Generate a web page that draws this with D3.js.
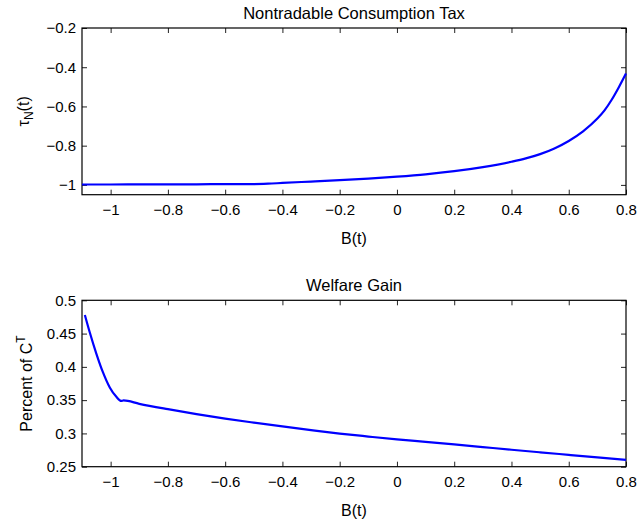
<!DOCTYPE html>
<html>
<head>
<meta charset="utf-8">
<script src="https://cdn.jsdelivr.net/npm/d3@7"></script>
<style>
  html, body { margin: 0; padding: 0; background: #fff; }
  svg { display: block; font-family: "Liberation Sans", Arial, Helvetica, sans-serif; }
</style>
</head>
<body>
<svg id="chart" width="638" height="523"></svg>
<script>
// ---- Data ----
const xTicks = [-1, -0.8, -0.6, -0.4, -0.2, 0, 0.2, 0.4, 0.6, 0.8];

// Panel 1: Nontradable Consumption Tax
const taxB   = [-1.1, -1.0, -0.9, -0.8, -0.7, -0.6, -0.5, -0.45, -0.4, -0.3, -0.2, -0.1, 0, 0.1, 0.2, 0.3, 0.4, 0.45, 0.5, 0.55, 0.6, 0.65, 0.7, 0.725, 0.75, 0.775, 0.8];
const taxVal = [-0.998, -0.998, -0.997, -0.997, -0.997, -0.996, -0.996, -0.994, -0.990, -0.983, -0.976, -0.968, -0.958, -0.946, -0.930, -0.909, -0.882, -0.865, -0.843, -0.814, -0.776, -0.727, -0.662, -0.620, -0.566, -0.502, -0.432];
const taxYTicks = [-1, -0.8, -0.6, -0.4, -0.2];

// Panel 2: Welfare Gain
const gainB   = [-1.09, -1.073, -1.05, -1.027, -1.003, -0.98, -0.963, -0.955, -0.9, -0.8, -0.7, -0.6, -0.5, -0.4, -0.3, -0.2, -0.1, 0, 0.1, 0.2, 0.3, 0.4, 0.5, 0.6, 0.7, 0.8];
const gainVal = [0.478, 0.452, 0.420, 0.392, 0.369, 0.355, 0.3488, 0.3495, 0.3445, 0.3365, 0.3290, 0.3222, 0.3162, 0.3105, 0.3050, 0.2998, 0.2953, 0.2910, 0.2873, 0.2835, 0.2795, 0.2755, 0.2716, 0.2678, 0.2640, 0.2602];
const gainYTicks = [0.25, 0.3, 0.35, 0.4, 0.45, 0.5];

const svg = d3.select("#chart");
const fmt = d => {
  const s = d3.format("~g")(Math.abs(+d.toFixed(4)));
  return (d < 0 ? "\u2212" : "") + s;
};

function panel(opts) {
  const { top, bottom, xDomain, yDomain, xs, ys, yTicks, title, ylabel } = opts;
  const left = 82, right = 626;
  const x = d3.scaleLinear().domain(xDomain).range([left, right]);
  const y = d3.scaleLinear().domain(yDomain).range([bottom, top]);
  const g = svg.append("g");

  // axes (inward ticks on all four sides)
  const ax = g.append("g").attr("transform", `translate(0,${bottom})`)
    .call(d3.axisBottom(x).tickValues(xTicks).tickSize(-5).tickPadding(10).tickFormat(fmt));
  const axT = g.append("g").attr("transform", `translate(0,${top})`)
    .call(d3.axisTop(x).tickValues(xTicks).tickSize(-5).tickFormat(""));
  const ay = g.append("g").attr("transform", `translate(${left},0)`)
    .call(d3.axisLeft(y).tickValues(yTicks).tickSize(-5).tickPadding(6).tickFormat(fmt));
  const ayR = g.append("g").attr("transform", `translate(${right},0)`)
    .call(d3.axisRight(y).tickValues(yTicks).tickSize(-5).tickFormat(""));
  [ax, axT, ay, ayR].forEach(a => {
    a.select(".domain").remove();
    a.selectAll(".tick line").attr("stroke", "#222").attr("stroke-width", 1);
    a.selectAll(".tick text").attr("font-size", 15).attr("fill", "#000")
      .attr("font-family", "'Liberation Sans', Arial, sans-serif");
  });

  // frame
  g.append("rect").attr("x", left).attr("y", top)
    .attr("width", right - left).attr("height", bottom - top)
    .attr("fill", "none").attr("stroke", "#000").attr("stroke-width", 1.2);

  // line
  const data = xs.map((d, i) => [d, ys[i]]);
  g.append("path").datum(data)
    .attr("fill", "none").attr("stroke", "#0000ff").attr("stroke-width", 2.2)
    .attr("stroke-linejoin", "round")
    .attr("d", d3.line().x(d => x(d[0])).y(d => y(d[1])).curve(d3.curveMonotoneX));

  // title
  g.append("text").attr("x", (left + right) / 2).attr("y", top - 9)
    .attr("text-anchor", "middle").attr("font-size", 16.5).attr("fill", "#000").text(title);

  // x label
  g.append("text").attr("x", (left + right) / 2).attr("y", bottom + 49)
    .attr("text-anchor", "middle").attr("font-size", 16).attr("fill", "#000").text("B(t)");

  // y label
  const yl = g.append("text")
    .attr("transform", `translate(${opts.ylx},${(top + bottom) / 2}) rotate(-90)`)
    .attr("text-anchor", "middle").attr("font-size", 16).attr("fill", "#000");
  ylabel(yl);
}

panel({
  top: 28, bottom: 194.7, xDomain: [-1.1, 0.8], yDomain: [-1.05, -0.2],
  xs: taxB, ys: taxVal, yTicks: taxYTicks,
  title: "Nontradable Consumption Tax", ylx: 29,
  ylabel: t => {
    t.append("tspan").text("\u03c4");
    t.append("tspan").attr("font-size", 12).attr("dy", 4).text("N");
    t.append("tspan").attr("dy", -4).text("(t)");
  }
});

panel({
  top: 300.3, bottom: 466.7, xDomain: [-1.1, 0.8], yDomain: [0.25, 0.5],
  xs: gainB, ys: gainVal, yTicks: gainYTicks,
  title: "Welfare Gain", ylx: 32,
  ylabel: t => {
    t.append("tspan").text("Percent of C");
    t.append("tspan").attr("font-size", 12).attr("dy", -7).text("T");
  }
});
</script>
</body>
</html>
